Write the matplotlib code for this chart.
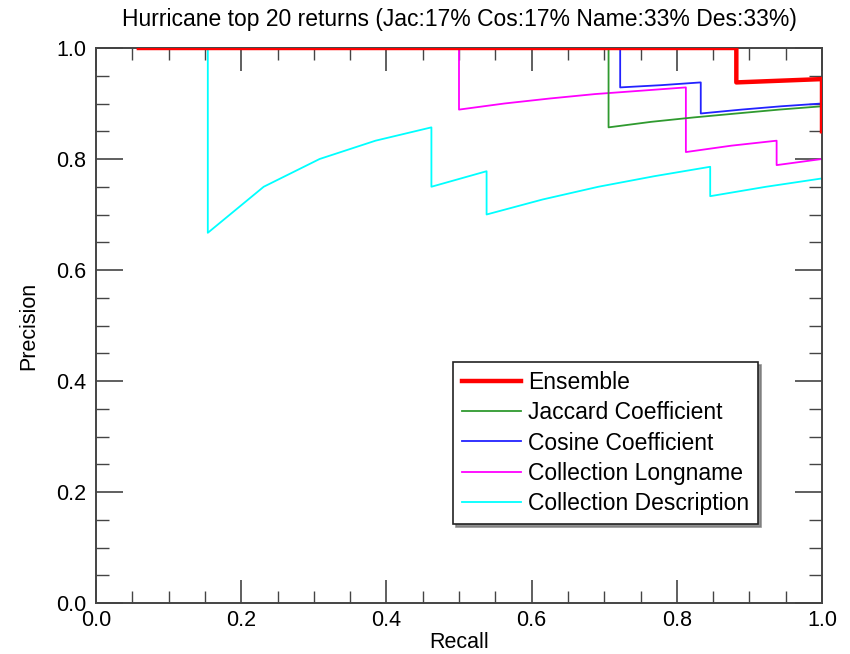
import matplotlib
matplotlib.use("Agg")
import matplotlib.pyplot as plt
from matplotlib.ticker import MultipleLocator

plt.rcParams['font.family'] = ['Liberation Sans', 'DejaVu Sans']

title = "Hurricane top 20 returns (Jac:17% Cos:17% Name:33% Des:33%)"

ens_recall = [0.059, 0.118, 0.176, 0.235, 0.294, 0.353, 0.412, 0.471, 0.529, 0.588,
              0.647, 0.706, 0.765, 0.824, 0.882, 0.882, 0.941, 1.000, 1.000, 1.000]
ens_prec = [1.000, 1.000, 1.000, 1.000, 1.000, 1.000, 1.000, 1.000, 1.000, 1.000,
            1.000, 1.000, 1.000, 1.000, 1.000, 0.938, 0.941, 0.944, 0.895, 0.850]

jac_recall = [0.059, 0.118, 0.176, 0.235, 0.294, 0.353, 0.412, 0.471, 0.529, 0.588,
              0.647, 0.706, 0.706, 0.706, 0.765, 0.824, 0.882, 0.941, 1.000, 1.000]
jac_prec = [1.000, 1.000, 1.000, 1.000, 1.000, 1.000, 1.000, 1.000, 1.000, 1.000,
            1.000, 1.000, 0.923, 0.857, 0.867, 0.875, 0.882, 0.889, 0.895, 0.850]

cos_recall = [0.056, 0.111, 0.167, 0.222, 0.278, 0.333, 0.389, 0.444, 0.500, 0.556,
              0.611, 0.667, 0.722, 0.722, 0.778, 0.833, 0.833, 0.889, 0.944, 1.000]
cos_prec = [1.000, 1.000, 1.000, 1.000, 1.000, 1.000, 1.000, 1.000, 1.000, 1.000,
            1.000, 1.000, 1.000, 0.929, 0.933, 0.938, 0.882, 0.889, 0.895, 0.900]

name_recall = [0.0625, 0.125, 0.1875, 0.250, 0.3125, 0.375, 0.4375, 0.500, 0.500, 0.5625,
               0.625, 0.6875, 0.750, 0.8125, 0.8125, 0.8125, 0.875, 0.9375, 0.9375, 1.000]
name_prec = [1.000, 1.000, 1.000, 1.000, 1.000, 1.000, 1.000, 1.000, 0.889, 0.900,
             0.909, 0.917, 0.923, 0.929, 0.867, 0.8125, 0.824, 0.833, 0.789, 0.800]

des_recall = [0.077, 0.154, 0.154, 0.231, 0.308, 0.385, 0.462, 0.462, 0.538, 0.538,
              0.615, 0.692, 0.769, 0.846, 0.846, 0.923, 1.000, 1.000, 1.000, 1.000]
des_prec = [1.000, 1.000, 0.667, 0.750, 0.800, 0.833, 0.857, 0.750, 0.778, 0.700,
            0.727, 0.750, 0.769, 0.786, 0.733, 0.750, 0.765, 0.722, 0.684, 0.650]

fig = plt.figure(figsize=(8.5, 6.54), dpi=100)
ax = fig.add_axes([96/850, 1 - 603/654, 726/850, 555/654])

l_des, = ax.plot(des_recall, des_prec, color='#00ffff', lw=1.3, zorder=2)
l_name, = ax.plot(name_recall, name_prec, color='#ff00ff', lw=1.3, zorder=2)
l_cos, = ax.plot(cos_recall, cos_prec, color='#2222ff', lw=1.3, zorder=2)
l_jac, = ax.plot(jac_recall, jac_prec, color='#2f9a2f', lw=1.3, zorder=2)
l_ens, = ax.plot(ens_recall, ens_prec, color='#ff0000', lw=3.2, zorder=3)

ax.set_xlim(0, 1)
ax.set_ylim(0, 1)
ax.xaxis.set_major_locator(MultipleLocator(0.2))
ax.xaxis.set_minor_locator(MultipleLocator(0.05))
ax.yaxis.set_major_locator(MultipleLocator(0.2))
ax.yaxis.set_minor_locator(MultipleLocator(0.05))
ax.xaxis.set_major_formatter(plt.FuncFormatter(lambda v, p: f"{v:.1f}"))
ax.yaxis.set_major_formatter(plt.FuncFormatter(lambda v, p: f"{v:.1f}"))

ax.tick_params(axis='both', which='both', direction='in', top=True, right=True,
               color='#444444', labelsize=15.5)
ax.tick_params(axis='x', which='major', length=16.5, width=1.2, pad=5)
ax.tick_params(axis='x', which='minor', length=8.5, width=1.0)
ax.tick_params(axis='y', which='major', length=19.5, width=1.2, pad=7)
ax.tick_params(axis='y', which='minor', length=9.7, width=1.0)
for s in ax.spines.values():
    s.set_color('#444444')
    s.set_linewidth(1.4)

ax.set_xlabel("Recall", fontsize=15.5, labelpad=1)
ax.set_ylabel("Precision", fontsize=15.5, labelpad=12)
ax.set_title(title, fontsize=16.5, pad=16)

leg = ax.legend([l_ens, l_jac, l_cos, l_name, l_des],
                ["Ensemble", "Jaccard Coefficient", "Cosine Coefficient",
                 "Collection Longname", "Collection Description"],
                loc='upper left', bbox_to_anchor=(0.492, 0.434),
                fontsize=16.5, handlelength=2.6, handletextpad=0.3,
                labelspacing=0.32, borderpad=0.38, borderaxespad=0,
                fancybox=False, frameon=True, shadow={'color': '#777777', 'alpha': 0.8})
leg.get_frame().set_edgecolor('#222222')
leg.get_frame().set_linewidth(1.2)

fig.savefig("out.png", dpi=100)
